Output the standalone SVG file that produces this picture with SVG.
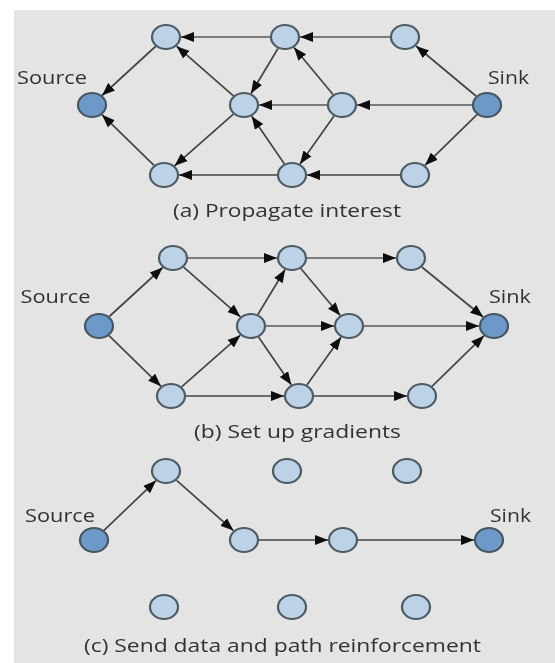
<svg xmlns="http://www.w3.org/2000/svg" width="555" height="663" viewBox="0 0 555 663">
<style>
text{font-family:"Open Sans","Noto Sans",sans-serif;font-size:18.500px;fill:#333}
.n{fill:#bdd2e6;stroke:#4c5b64;stroke-width:2.200}
.e{fill:#6d99c8;stroke:#46565f;stroke-width:2.200}
.c line{stroke:#444;stroke-width:1.700;marker-end:url(#a)}
.c line.s{stroke:#7a7a7a;stroke-width:2.200}
</style>
<defs>
<marker id="a" markerUnits="userSpaceOnUse" markerWidth="14" markerHeight="12" refX="13" refY="6" orient="auto"><path d="M0 1L13 6L0 11z" fill="#0c0c0c"/></marker>
<filter id="b" x="-5%" y="-5%" width="110%" height="110%"><feGaussianBlur stdDeviation="0.7"/></filter>
</defs>
<rect width="555" height="663" fill="#fff"/>
<rect x="14" y="10" width="541" height="653" fill="#e4e4e4"/>
<g filter="url(#b)">
<g id="connectors" class="c">
<line class="s" x1="390" y1="37" x2="300" y2="37"/>
<line class="s" x1="270" y1="37" x2="181" y2="37"/>
<line x1="156" y1="46" x2="102" y2="95.500"/>
<line x1="476" y1="96" x2="416" y2="46"/>
<line x1="333" y1="94.500" x2="294" y2="47.500"/>
<line x1="278" y1="48.500" x2="251" y2="93.500"/>
<line x1="233.400" y1="95.800" x2="176.600" y2="46.200"/>
<line class="s" x1="472" y1="105" x2="357" y2="105"/>
<line class="s" x1="327" y1="105" x2="259" y2="105"/>
<line x1="233.400" y1="114.200" x2="174.600" y2="165.800"/>
<line x1="154" y1="165.300" x2="102" y2="114.700"/>
<line x1="334" y1="116" x2="300" y2="164"/>
<line x1="284.300" y1="163.800" x2="251.700" y2="116.200"/>
<line x1="477" y1="114.700" x2="425" y2="165.300"/>
<line x1="400" y1="175" x2="307" y2="175"/>
<line x1="277" y1="175" x2="179" y2="175"/>
<line x1="109.300" y1="316.500" x2="162.700" y2="267.500"/>
<line x1="109" y1="335.700" x2="161" y2="386.300"/>
<line class="s" x1="188" y1="258" x2="277" y2="258"/>
<line class="s" x1="307" y1="258" x2="396" y2="258"/>
<line x1="421.800" y1="267" x2="483.200" y2="317"/>
<line x1="183.600" y1="267.200" x2="240.400" y2="316.800"/>
<line x1="257.900" y1="314.500" x2="285.100" y2="269.500"/>
<line x1="300.800" y1="268.500" x2="340.200" y2="315.500"/>
<line class="s" x1="266" y1="326" x2="334" y2="326"/>
<line class="s" x1="364" y1="326" x2="479" y2="326"/>
<line x1="258.700" y1="337.200" x2="291.300" y2="384.800"/>
<line x1="181.600" y1="386.800" x2="240.400" y2="335.200"/>
<line x1="306.900" y1="385" x2="341.100" y2="337"/>
<line x1="432" y1="386.300" x2="484" y2="335.700"/>
<line x1="186" y1="396" x2="284" y2="396"/>
<line x1="314" y1="396" x2="407" y2="396"/>
<line x1="104" y1="530.400" x2="156" y2="480.600"/>
<line x1="176.600" y1="480.400" x2="233.400" y2="530.600"/>
<line x1="259" y1="540" x2="328" y2="540"/>
<line x1="358" y1="540" x2="474" y2="540"/>
</g>
<g id="a-source"><ellipse class="e" cx="92" cy="105" rx="14" ry="12"/><text x="17" y="84" textLength="70" lengthAdjust="spacingAndGlyphs">Source</text></g>
<g id="a-sink"><ellipse class="e" cx="487" cy="105" rx="14" ry="12"/><text x="488" y="84" textLength="41" lengthAdjust="spacingAndGlyphs">Sink</text></g>
<g id="a1"><ellipse class="n" cx="166" cy="37" rx="14" ry="12"/></g>
<g id="a2"><ellipse class="n" cx="285" cy="37" rx="14" ry="12"/></g>
<g id="a3"><ellipse class="n" cx="405" cy="37" rx="14" ry="12"/></g>
<g id="a4"><ellipse class="n" cx="244" cy="105" rx="14" ry="12"/></g>
<g id="a5"><ellipse class="n" cx="342" cy="105" rx="14" ry="12"/></g>
<g id="a6"><ellipse class="n" cx="164" cy="175" rx="14" ry="12"/></g>
<g id="a7"><ellipse class="n" cx="292" cy="175" rx="14" ry="12"/></g>
<g id="a8"><ellipse class="n" cx="415" cy="175" rx="14" ry="12"/></g>
<text x="173" y="217" textLength="228" lengthAdjust="spacingAndGlyphs">(a) Propagate interest</text>
<g id="b-source"><ellipse class="e" cx="99" cy="326" rx="14" ry="12"/><text x="20.500" y="303" textLength="70" lengthAdjust="spacingAndGlyphs">Source</text></g>
<g id="b-sink"><ellipse class="e" cx="494" cy="326" rx="14" ry="12"/><text x="489" y="303" textLength="42" lengthAdjust="spacingAndGlyphs">Sink</text></g>
<g id="b1"><ellipse class="n" cx="173" cy="258" rx="14" ry="12"/></g>
<g id="b2"><ellipse class="n" cx="292" cy="258" rx="14" ry="12"/></g>
<g id="b3"><ellipse class="n" cx="411" cy="258" rx="14" ry="12"/></g>
<g id="b4"><ellipse class="n" cx="251" cy="326" rx="14" ry="12"/></g>
<g id="b5"><ellipse class="n" cx="349" cy="326" rx="14" ry="12"/></g>
<g id="b6"><ellipse class="n" cx="171" cy="396" rx="14" ry="12"/></g>
<g id="b7"><ellipse class="n" cx="299" cy="396" rx="14" ry="12"/></g>
<g id="b8"><ellipse class="n" cx="422" cy="396" rx="14" ry="12"/></g>
<text x="194" y="438" textLength="207" lengthAdjust="spacingAndGlyphs">(b) Set up gradients</text>
<g id="c-source"><ellipse class="e" cx="94" cy="540" rx="14" ry="12"/><text x="25" y="522" textLength="70" lengthAdjust="spacingAndGlyphs">Source</text></g>
<g id="c-sink"><ellipse class="e" cx="489" cy="540" rx="14" ry="12"/><text x="490" y="522" textLength="41" lengthAdjust="spacingAndGlyphs">Sink</text></g>
<g id="c1"><ellipse class="n" cx="166" cy="471" rx="14" ry="12"/></g>
<g id="c2"><ellipse class="n" cx="287" cy="471" rx="14" ry="12"/></g>
<g id="c3"><ellipse class="n" cx="407" cy="471" rx="14" ry="12"/></g>
<g id="c4"><ellipse class="n" cx="244" cy="540" rx="14" ry="12"/></g>
<g id="c5"><ellipse class="n" cx="343" cy="540" rx="14" ry="12"/></g>
<g id="c6"><ellipse class="n" cx="164" cy="607" rx="14" ry="12"/></g>
<g id="c7"><ellipse class="n" cx="292" cy="607" rx="14" ry="12"/></g>
<g id="c8"><ellipse class="n" cx="416" cy="607" rx="14" ry="12"/></g>
<text x="84" y="652" textLength="397" lengthAdjust="spacingAndGlyphs">(c) Send data and path reinforcement</text>
</g>
</svg>
